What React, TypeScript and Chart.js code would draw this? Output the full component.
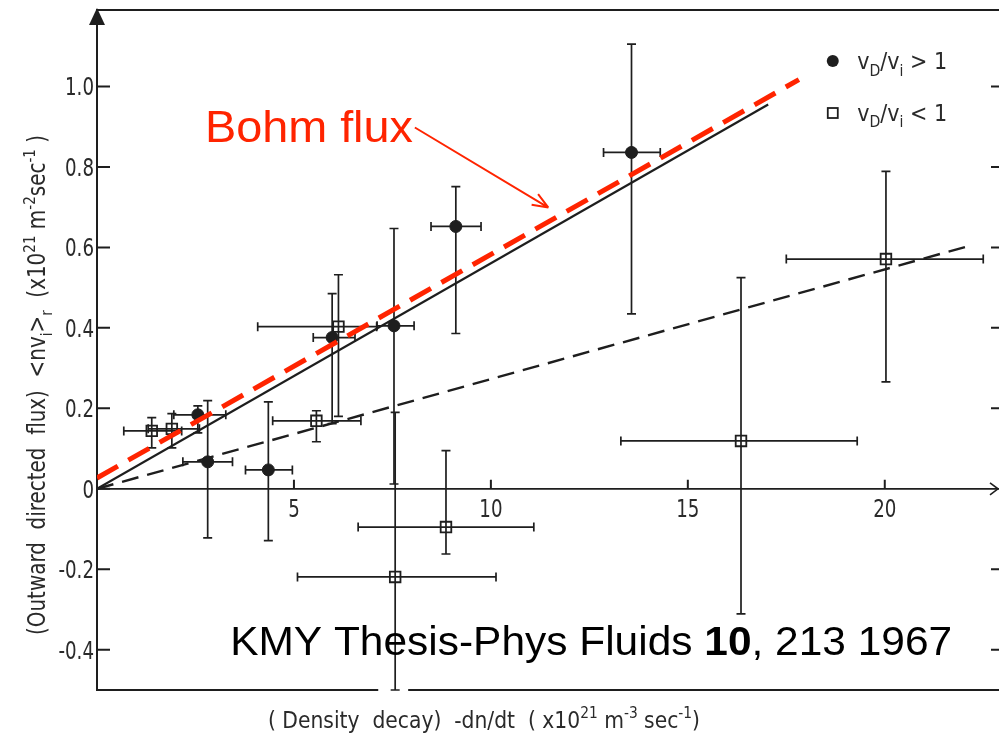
import React, { useEffect, useRef } from 'react';
import { Chart, registerables } from 'chart.js';

Chart.register(...registerables);

// ---- axis ticks ----
const xTickValues = [5, 10, 15, 20];
const xTickLabels = ['5', '10', '15', '20'];
const yTickValues = [-0.4, -0.2, 0, 0.2, 0.4, 0.6, 0.8, 1.0];
const yTickLabels = ['-0.4', '-0.2', '0', '0.2', '0.4', '0.6', '0.8', '1.0'];

// ---- vD/vi > 1 (filled circles) ----
const fastX = [2.56, 2.81, 4.35, 5.97, 7.54, 9.11, 13.57];
const fastY = [0.184, 0.067, 0.047, 0.376, 0.405, 0.652, 0.836];
const fastXLo = [1.95, 2.18, 3.77, 5.49, 7.11, 8.48, 12.86];
const fastXHi = [3.27, 3.44, 4.96, 6.55, 8.05, 9.75, 14.3];
const fastYLo = [0.139, -0.122, -0.129, 0.162, 0.012, 0.386, 0.435];
const fastYHi = [0.206, 0.219, 0.216, 0.485, 0.647, 0.751, 1.105];

// ---- vD/vi < 1 (open squares) ----
const slowX = [1.39, 1.9, 5.57, 6.13, 7.57, 8.86, 16.35, 20.03];
const slowY = [0.144, 0.149, 0.169, 0.403, -0.219, -0.095, 0.119, 0.571];
const slowXLo = [0.68, 1.3, 4.46, 4.08, 5.09, 6.63, 13.3, 17.5];
const slowXHi = [2.15, 2.6, 6.7, 7.1, 10.13, 11.09, 19.3, 22.5];
const slowYLo = [0.102, 0.102, 0.117, 0.18, -0.5, -0.162, -0.311, 0.266];
const slowYHi = [0.177, 0.187, 0.194, 0.532, 0.19, 0.095, 0.525, 0.789];

// ---- fitted lines ----
const solidX = [0, 17.04];
const solidY = [0, 0.955];
const dashX = [0, 22.15];
const dashY = [0, 0.604];
const bohmX = [0, 17.82];
const bohmY = [0.027, 1.017];

const X_MIN = 0;
const X_MAX = 22.9;
const Y_MIN = -0.5;
const Y_MAX = 1.19;

const INK = '#1e1e1e';
const TXT = '#2a2a2a';
const RED = '#ff2400';
const NARROW = "'DejaVu Sans', sans-serif";
const SANS = "'Liberation Sans', Arial, Helvetica, sans-serif";

type Part = { t: string; s?: 'sup' | 'sub'; bold?: boolean };

function partFont(p: Part, size: number, family: string) {
  const sz = p.s ? size * 0.68 : size;
  return `${p.bold ? 'bold ' : ''}${sz}px ${family}`;
}
function richWidth(ctx: CanvasRenderingContext2D, parts: Part[], size: number, family: string) {
  let w = 0;
  for (const p of parts) {
    ctx.font = partFont(p, size, family);
    w += ctx.measureText(p.t).width;
  }
  return w;
}
function drawRich(
  ctx: CanvasRenderingContext2D,
  parts: Part[],
  x: number,
  y: number,
  size: number,
  family: string,
  color: string,
  targetWidth: number,
  align: 'left' | 'center' | 'right'
) {
  const w = richWidth(ctx, parts, size, family);
  const k = targetWidth / w;
  const off = align === 'center' ? targetWidth / 2 : align === 'right' ? targetWidth : 0;
  ctx.save();
  ctx.translate(x - off, y);
  ctx.scale(k, 1);
  ctx.fillStyle = color;
  ctx.textBaseline = 'alphabetic';
  ctx.textAlign = 'left';
  let cx = 0;
  for (const p of parts) {
    ctx.font = partFont(p, size, family);
    const dy = p.s === 'sup' ? -size * 0.42 : p.s === 'sub' ? size * 0.28 : 0;
    ctx.fillText(p.t, cx, dy);
    cx += ctx.measureText(p.t).width;
  }
  ctx.restore();
}
// condensed single-line label
function drawNarrow(
  ctx: CanvasRenderingContext2D,
  text: string,
  x: number,
  y: number,
  size: number,
  squeeze: number,
  align: 'left' | 'center' | 'right'
) {
  ctx.save();
  ctx.font = `${size}px ${NARROW}`;
  const w = ctx.measureText(text).width * squeeze;
  const off = align === 'center' ? w / 2 : align === 'right' ? w : 0;
  ctx.translate(x - off, y);
  ctx.scale(squeeze, 1);
  ctx.fillStyle = TXT;
  ctx.textAlign = 'left';
  ctx.textBaseline = 'alphabetic';
  ctx.fillText(text, 0, 0);
  ctx.restore();
}

const yTitle: Part[] = [
  { t: '(Outward  directed  flux)  <nv' },
  { t: 'i', s: 'sub' },
  { t: '>' },
  { t: 'r', s: 'sub' },
  { t: '  (x10' },
  { t: '21', s: 'sup' },
  { t: ' m' },
  { t: '-2', s: 'sup' },
  { t: 'sec' },
  { t: '-1', s: 'sup' },
  { t: ' )' },
];
const xTitle: Part[] = [
  { t: '( Density  decay)  -dn/dt  ( x10' },
  { t: '21', s: 'sup' },
  { t: ' m' },
  { t: '-3', s: 'sup' },
  { t: ' sec' },
  { t: '-1', s: 'sup' },
  { t: ')' },
];
const legendHi: Part[] = [
  { t: 'v' }, { t: 'D', s: 'sub' }, { t: '/v' }, { t: 'i', s: 'sub' }, { t: ' > 1' },
];
const legendLo: Part[] = [
  { t: 'v' }, { t: 'D', s: 'sub' }, { t: '/v' }, { t: 'i', s: 'sub' }, { t: ' < 1' },
];
const creditText: Part[] = [
  { t: 'KMY Thesis-Phys Fluids ' },
  { t: '10', bold: true },
  { t: ', 213 1967' },
];
const bohmText: Part[] = [{ t: 'Bohm flux' }];

function drawErrorBars(
  ctx: CanvasRenderingContext2D,
  sx: any,
  sy: any,
  xs: number[],
  ys: number[],
  xl: number[],
  xh: number[],
  yl: number[],
  yh: number[]
) {
  const cap = 4.5;
  for (let i = 0; i < xs.length; i++) {
    const px = sx.getPixelForValue(xs[i]);
    const py = sy.getPixelForValue(ys[i]);
    const x1 = sx.getPixelForValue(xl[i]);
    const x2 = sx.getPixelForValue(xh[i]);
    const y1 = sy.getPixelForValue(yl[i]);
    const y2 = sy.getPixelForValue(yh[i]);
    ctx.beginPath();
    ctx.moveTo(x1, py);
    ctx.lineTo(x2, py);
    ctx.moveTo(x1, py - cap);
    ctx.lineTo(x1, py + cap);
    ctx.moveTo(x2, py - cap);
    ctx.lineTo(x2, py + cap);
    ctx.moveTo(px, y1);
    ctx.lineTo(px, y2);
    ctx.moveTo(px - cap, y1);
    ctx.lineTo(px + cap, y1);
    ctx.moveTo(px - cap, y2);
    ctx.lineTo(px + cap, y2);
    ctx.stroke();
  }
}

const decorPlugin = {
  id: 'decor',
  beforeDatasetsDraw(chart: any) {
    const { ctx, chartArea, scales } = chart;
    const sx = scales.x;
    const sy = scales.y;
    ctx.save();
    ctx.strokeStyle = INK;
    ctx.lineWidth = 1.7;
    drawErrorBars(ctx, sx, sy, fastX, fastY, fastXLo, fastXHi, fastYLo, fastYHi);
    drawErrorBars(ctx, sx, sy, slowX, slowY, slowXLo, slowXHi, slowYLo, slowYHi);

    // frame: top line
    ctx.lineWidth = 2;
    ctx.beginPath();
    ctx.moveTo(chartArea.left, chartArea.top);
    ctx.lineTo(chartArea.right, chartArea.top);
    // bottom line with a gap around the error bar cap
    const gapL = sx.getPixelForValue(7.14);
    const gapR = sx.getPixelForValue(7.9);
    ctx.moveTo(chartArea.left, chartArea.bottom);
    ctx.lineTo(gapL, chartArea.bottom);
    ctx.moveTo(gapR, chartArea.bottom);
    ctx.lineTo(chartArea.right, chartArea.bottom);
    ctx.stroke();

    // y axis arrow head
    const ax = chartArea.left;
    ctx.fillStyle = INK;
    ctx.beginPath();
    ctx.moveTo(ax, chartArea.top - 2);
    ctx.lineTo(ax - 8, chartArea.top + 15);
    ctx.lineTo(ax + 8, chartArea.top + 15);
    ctx.closePath();
    ctx.fill();

    // x axis arrow (open chevron at right end)
    const y0 = sy.getPixelForValue(0);
    ctx.lineWidth = 1.6;
    ctx.beginPath();
    ctx.moveTo(chartArea.right - 9, y0 - 6);
    ctx.lineTo(chartArea.right - 1, y0);
    ctx.lineTo(chartArea.right - 9, y0 + 6);
    ctx.stroke();

    // tick marks (inward)
    ctx.lineWidth = 2;
    ctx.beginPath();
    for (const v of yTickValues) {
      const py = sy.getPixelForValue(v);
      ctx.moveTo(chartArea.left, py);
      ctx.lineTo(chartArea.left + 13, py);
      if (v !== 0) {
        ctx.moveTo(chartArea.right - 8, py);
        ctx.lineTo(chartArea.right, py);
      }
    }
    for (const v of xTickValues) {
      const px = sx.getPixelForValue(v);
      ctx.moveTo(px, y0);
      ctx.lineTo(px, y0 - 9);
    }
    ctx.stroke();

    // tick labels
    yTickValues.forEach((v, i) => {
      drawNarrow(ctx, yTickLabels[i], chartArea.left - 3, sy.getPixelForValue(v) + 9, 24, 0.76, 'right');
    });
    xTickValues.forEach((v, i) => {
      drawNarrow(ctx, xTickLabels[i], sx.getPixelForValue(v), y0 + 28, 24, 0.76, 'center');
    });
    ctx.restore();
  },
  afterDatasetsDraw(chart: any) {
    const { ctx, scales } = chart;
    const sx = scales.x;
    const sy = scales.y;
    ctx.save();

    // axis titles
    ctx.save();
    ctx.translate(45, 385);
    ctx.rotate(-Math.PI / 2);
    drawRich(ctx, yTitle, 0, 0, 24, NARROW, TXT, 500, 'center');
    ctx.restore();
    drawRich(ctx, xTitle, 484, 728, 23, NARROW, TXT, 432, 'center');

    // legend
    ctx.fillStyle = INK;
    ctx.beginPath();
    ctx.arc(sx.getPixelForValue(18.68), sy.getPixelForValue(1.063), 6, 0, Math.PI * 2);
    ctx.fill();
    ctx.strokeStyle = INK;
    ctx.lineWidth = 1.8;
    const sqx = sx.getPixelForValue(18.68);
    const sqy = sy.getPixelForValue(0.934);
    ctx.strokeRect(sqx - 5, sqy - 5, 10, 10);
    drawRich(ctx, legendHi, sx.getPixelForValue(19.3), sy.getPixelForValue(1.043), 23, NARROW, TXT, 90, 'left');
    drawRich(ctx, legendLo, sx.getPixelForValue(19.3), sy.getPixelForValue(0.914), 23, NARROW, TXT, 90, 'left');

    // Bohm flux annotation
    drawRich(ctx, bohmText, sx.getPixelForValue(2.74), sy.getPixelForValue(0.862), 45, SANS, RED, 208, 'left');
    const a1x = sx.getPixelForValue(8.07);
    const a1y = sy.getPixelForValue(0.898);
    const a2x = sx.getPixelForValue(11.46);
    const a2y = sy.getPixelForValue(0.699);
    ctx.strokeStyle = RED;
    ctx.lineWidth = 2;
    ctx.beginPath();
    ctx.moveTo(a1x, a1y);
    ctx.lineTo(a2x, a2y);
    const ang = Math.atan2(a2y - a1y, a2x - a1x);
    const hl = 17;
    ctx.moveTo(a2x, a2y);
    ctx.lineTo(a2x - hl * Math.cos(ang - 0.38), a2y - hl * Math.sin(ang - 0.38));
    ctx.moveTo(a2x, a2y);
    ctx.lineTo(a2x - hl * Math.cos(ang + 0.38), a2y - hl * Math.sin(ang + 0.38));
    ctx.stroke();

    // credit
    drawRich(ctx, creditText, sx.getPixelForValue(3.38), sy.getPixelForValue(-0.413), 41, SANS, '#000', 722, 'left');
    ctx.restore();
  },
};

const toPts = (xs: number[], ys: number[]) => xs.map((x, i) => ({ x, y: ys[i] }));

export default function App() {
  const ref = useRef<HTMLCanvasElement | null>(null);
  useEffect(() => {
    if (!ref.current) return;
    const chart = new Chart(ref.current, {
      type: 'scatter',
      data: {
        datasets: [
          {
            label: 'Bohm flux',
            data: toPts(bohmX, bohmY),
            showLine: true,
            borderColor: RED,
            borderWidth: 5,
            borderDash: [24, 12],
            pointRadius: 0,
            order: 0,
          } as any,
          {
            label: 'fast',
            data: toPts(fastX, fastY),
            pointRadius: 6,
            pointBackgroundColor: INK,
            pointBorderColor: INK,
            pointBorderWidth: 1,
            order: 1,
          },
          {
            label: 'slow',
            data: toPts(slowX, slowY),
            pointStyle: 'rect',
            pointRadius: 7.5,
            pointBackgroundColor: 'rgba(0,0,0,0)',
            pointBorderColor: INK,
            pointBorderWidth: 1.8,
            order: 2,
          },
          {
            label: 'fit',
            data: toPts(solidX, solidY),
            showLine: true,
            borderColor: INK,
            borderWidth: 2.2,
            pointRadius: 0,
            order: 3,
          } as any,
          {
            label: 'fit2',
            data: toPts(dashX, dashY),
            showLine: true,
            borderColor: INK,
            borderWidth: 2.4,
            borderDash: [17, 9],
            pointRadius: 0,
            order: 4,
          } as any,
        ],
      },
      options: {
        animation: false,
        responsive: false,
        maintainAspectRatio: false,
        layout: { autoPadding: false, padding: { left: 0, right: 0, top: 10, bottom: 45 } },
        plugins: {
          legend: { display: false },
          tooltip: { enabled: false },
        },
        scales: {
          x: {
            type: 'linear',
            min: X_MIN,
            max: X_MAX,
            position: { y: 0 } as any,
            afterBuildTicks: (s: any) => {
              s.ticks = xTickValues.map((v) => ({ value: v }));
            },
            ticks: { display: false },
            grid: { display: false, drawTicks: false },
            border: { display: true, color: INK, width: 1.8 },
          },
          y: {
            type: 'linear',
            min: Y_MIN,
            max: Y_MAX,
            position: 'left',
            afterFit: (s: any) => {
              s.width = 97;
            },
            afterBuildTicks: (s: any) => {
              s.ticks = yTickValues.map((v) => ({ value: v }));
            },
            ticks: { display: false },
            grid: { display: false, drawTicks: false },
            border: { display: true, color: INK, width: 2 },
          },
        },
      },
      plugins: [decorPlugin],
    });
    return () => chart.destroy();
  }, []);
  return (
    <div style={{ position: 'absolute', left: 0, top: 0, width: 999, height: 735, background: '#fff' }}>
      <canvas ref={ref} width={999} height={735} style={{ display: 'block' }} />
    </div>
  );
}
